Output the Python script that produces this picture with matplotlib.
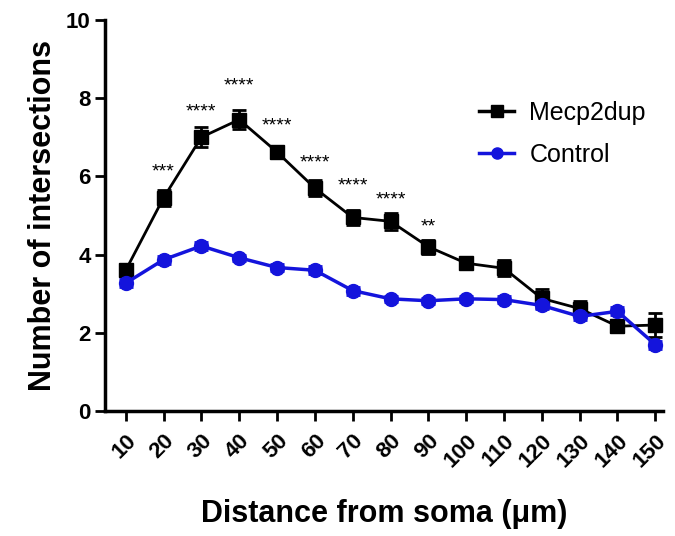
import matplotlib
matplotlib.use("Agg")
import matplotlib.pyplot as plt
from matplotlib.lines import Line2D

plt.rcParams['font.family'] = ['Liberation Sans', 'DejaVu Sans']

distance = [10, 20, 30, 40, 50, 60, 70, 80, 90, 100, 110, 120, 130, 140, 150]
mecp2dup = [3.6, 5.45, 7.0, 7.45, 6.62, 5.7, 4.95, 4.85, 4.2, 3.78, 3.65, 2.88, 2.62, 2.17, 2.2]
mecp2dup_err = [0.15, 0.2, 0.25, 0.25, 0.15, 0.2, 0.2, 0.22, 0.18, 0.12, 0.2, 0.25, 0.2, 0.15, 0.3]
control = [3.27, 3.87, 4.22, 3.92, 3.67, 3.6, 3.08, 2.87, 2.82, 2.87, 2.85, 2.7, 2.42, 2.55, 1.7]
control_err = [0.1, 0.1, 0.1, 0.08, 0.1, 0.1, 0.1, 0.08, 0.08, 0.08, 0.08, 0.1, 0.1, 0.1, 0.1]
stars = ['', '***', '****', '****', '****', '****', '****', '****', '**', '', '', '', '', '', '']
star_y = [0, 6.1, 7.65, 8.3, 7.3, 6.35, 5.75, 5.4, 4.7, 0, 0, 0, 0, 0, 0]

blue = '#1414dc'

fig = plt.figure(figsize=(6.75, 5.36), dpi=100)
ax = fig.add_axes([0.156, 0.233, 0.826, 0.73])

ax.errorbar(distance, mecp2dup, yerr=mecp2dup_err, color='black', marker='s', markersize=10,
            linewidth=2, elinewidth=2, capsize=5, capthick=2, zorder=3)
ax.errorbar(distance, control, yerr=control_err, color=blue, marker='o', markersize=10,
            linewidth=2.5, elinewidth=2, capsize=5, capthick=2, zorder=4)

for x, s, y in zip(distance, stars, star_y):
    if s:
        ax.text(x, y, s, ha='center', va='center', fontsize=14)

ax.set_xlim(4.6, 152)
ax.set_ylim(0, 10)
ax.set_yticks([0, 2, 4, 6, 8, 10])
ax.set_xticks(distance)
ax.set_xticklabels([str(d) for d in distance], rotation=45, ha='right', va='top',
                   rotation_mode='anchor', fontsize=16, fontweight='bold')
for lab in ax.get_yticklabels():
    lab.set_fontweight('bold')
    lab.set_fontsize(16)

for side in ['top', 'right']:
    ax.spines[side].set_visible(False)
for side in ['left', 'bottom']:
    ax.spines[side].set_linewidth(2.5)
ax.tick_params(width=2, length=7, direction='out')
ax.tick_params(axis='x', pad=7)

ax.set_ylabel('Number of intersections', fontsize=22, fontweight='bold', labelpad=6)
ax.set_xlabel('Distance from soma (\u03bcm)', fontsize=22, fontweight='bold', labelpad=20)

handles = [Line2D([], [], color='black', marker='s', markersize=8, linewidth=2.5),
           Line2D([], [], color=blue, marker='o', markersize=8, linewidth=2.5)]
ax.legend(handles, ['Mecp2dup', 'Control'], loc='upper right', bbox_to_anchor=(1.01, 0.85),
          frameon=False, fontsize=18, handlelength=1.4, handletextpad=0.6, labelspacing=0.7)

fig.savefig('out.png', dpi=100)
